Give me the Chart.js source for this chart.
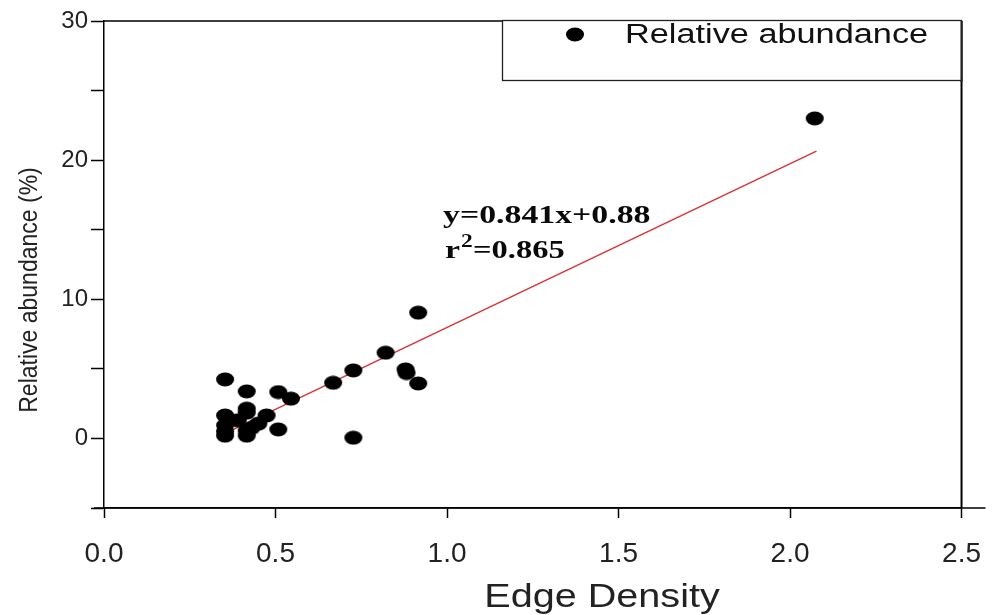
<!DOCTYPE html>
<html>
<head>
<meta charset="utf-8">
<script src="https://cdn.jsdelivr.net/npm/chart.js@4/dist/chart.umd.min.js"></script>
<style>
  html, body { margin: 0; padding: 0; background: #fff; }
  #wrap { width: 1000px; height: 615px; }
</style>
</head>
<body>
<div id="wrap"><canvas id="chart" width="1000" height="615"></canvas></div>
<script>
// values
const edgeDensity = [0.353, 0.416, 0.508, 0.545, 0.416, 0.416, 0.353, 0.474, 0.45, 0.39,
                     0.353, 0.353, 0.353, 0.416, 0.416, 0.43, 0.508, 0.668, 0.727, 0.821,
                     0.879, 0.882, 0.916, 0.916, 0.727, 2.072];
const abundance   = [4.24, 3.38, 3.33, 2.86, 2.14, 1.85, 1.65, 1.65, 1.06, 1.3,
                     0.94, 0.5, 0.2, 0.55, 0.2, 0.75, 0.65, 4.0, 4.89, 6.16,
                     4.96, 4.7, 3.95, 9.04, 0.05, 23.0];

// fitted line as drawn (end points)
const fitX = [0.353, 2.077];
const fitY = [0.36, 20.65];

const xTicks = [0, 0.5, 1.0, 1.5, 2.0, 2.5];
const yLabelled = [0, 10, 20, 30];

const seriesName = 'Relative abundance';
const eqText = 'y=0.841x+0.88';
const r2Text = '=0.865';

// elliptical dot like the original
function makeDot() {
    const c = document.createElement('canvas');
    c.width = 20; c.height = 15;
    const g = c.getContext('2d');
    g.fillStyle = '#000';
    g.beginPath();
    g.ellipse(10, 7.5, 9, 7, 0, 0, Math.PI * 2);
    g.fill();
    return c;
}
const dot = makeDot();

function stretchText(ctx, text, x, y, font, sx, align) {
    ctx.save();
    ctx.font = font;
    ctx.textBaseline = 'middle';
    ctx.textAlign = align || 'left';
    ctx.translate(x, y);
    ctx.scale(sx, 1);
    ctx.fillText(text, 0, 0);
    ctx.restore();
}

const extras = {
    id: 'extras',
    afterDraw(chart) {
        const ctx = chart.ctx;
        const a = chart.chartArea;
        ctx.save();
        ctx.strokeStyle = '#000';
        ctx.lineWidth = 1.5;
        // top frame, bottom axis running past the box
        ctx.beginPath();
        ctx.moveTo(a.left, a.top); ctx.lineTo(a.right, a.top);
        ctx.moveTo(a.left - 10, a.bottom); ctx.lineTo(a.right + 24, a.bottom);
        ctx.stroke();
        ctx.lineWidth = 2;
        ctx.beginPath();
        ctx.moveTo(a.right, a.top); ctx.lineTo(a.right, a.bottom);
        ctx.stroke();

        // legend box
        ctx.fillStyle = '#fff';
        ctx.fillRect(502, 20, 460, 60);
        ctx.strokeStyle = '#222';
        ctx.lineWidth = 1.3;
        ctx.strokeRect(502.5, 20.5, 459, 60);
        ctx.lineWidth = 2;
        ctx.beginPath();
        ctx.moveTo(a.right, a.top); ctx.lineTo(a.right, 82);
        ctx.stroke();
        ctx.drawImage(dot, 565, 27);
        ctx.fillStyle = '#111';
        stretchText(ctx, seriesName, 625, 36, '27px "Liberation Sans", Arial, sans-serif', 1.27);

        // equation
        ctx.fillStyle = '#0a0a0a';
        const ef = 'bold 26px "Liberation Serif", "Times New Roman", serif';
        stretchText(ctx, eqText, 443, 216, ef, 1.3);
        stretchText(ctx, 'r', 445, 251, ef, 1.3);
        stretchText(ctx, '2', 461, 242, 'bold 18px "Liberation Serif", serif', 1.3);
        stretchText(ctx, r2Text, 473, 251, ef, 1.25);

        // axis titles
        ctx.fillStyle = '#222';
        stretchText(ctx, 'Edge Density', 602, 598, '33px "Liberation Sans", Arial, sans-serif', 1.2, 'center');
        ctx.translate(30, 290);
        ctx.rotate(-Math.PI / 2);
        stretchText(ctx, 'Relative abundance (%)', 0, 0, '25px "Liberation Sans", Arial, sans-serif', 0.92, 'center');
        ctx.restore();
    }
};

new Chart(document.getElementById('chart').getContext('2d'), {
    data: {
        datasets: [{
            type: 'scatter',
            label: seriesName,
            data: edgeDensity.map((x, i) => ({ x: x, y: abundance[i] })),
            pointStyle: dot,
            order: 1
        }, {
            type: 'line',
            label: 'fit',
            data: fitX.map((x, i) => ({ x: x, y: fitY[i] })),
            borderColor: '#d9343a',
            borderWidth: 1.5,
            pointRadius: 0,
            order: 2
        }]
    },
    options: {
        responsive: false,
        animation: false,
        layout: { padding: { left: 0, top: 21, right: 38, bottom: 0 } },
        plugins: { legend: { display: false }, tooltip: { enabled: false } },
        scales: {
            x: {
                type: 'linear',
                min: 0, max: 2.5,
                afterBuildTicks: s => { s.ticks = xTicks.map(v => ({ value: v })); },
                afterFit: s => { s.height = 107; },
                ticks: {
                    color: '#222',
                    padding: 19,
                    font: { family: '"Liberation Sans", Arial, sans-serif', size: 28 },
                    callback: v => v.toFixed(1)
                },
                grid: { drawOnChartArea: false, drawTicks: true, tickLength: 10, color: '#000', tickWidth: 1.5 },
                border: { display: true, color: '#000', width: 1.5 }
            },
            y: {
                type: 'linear',
                min: -5, max: 30,
                ticks: {
                    stepSize: 5,
                    color: '#222',
                    padding: 3,
                    font: { family: '"Liberation Sans", Arial, sans-serif', size: 24 },
                    callback: v => yLabelled.includes(v) ? String(v) : ''
                },
                afterFit: s => { s.width = 104; },
                grid: { drawOnChartArea: false, drawTicks: true, tickLength: 13, color: '#000', tickWidth: 1.5 },
                border: { display: true, color: '#000', width: 1.5 }
            }
        }
    },
    plugins: [extras]
});
</script>
</body>
</html>
